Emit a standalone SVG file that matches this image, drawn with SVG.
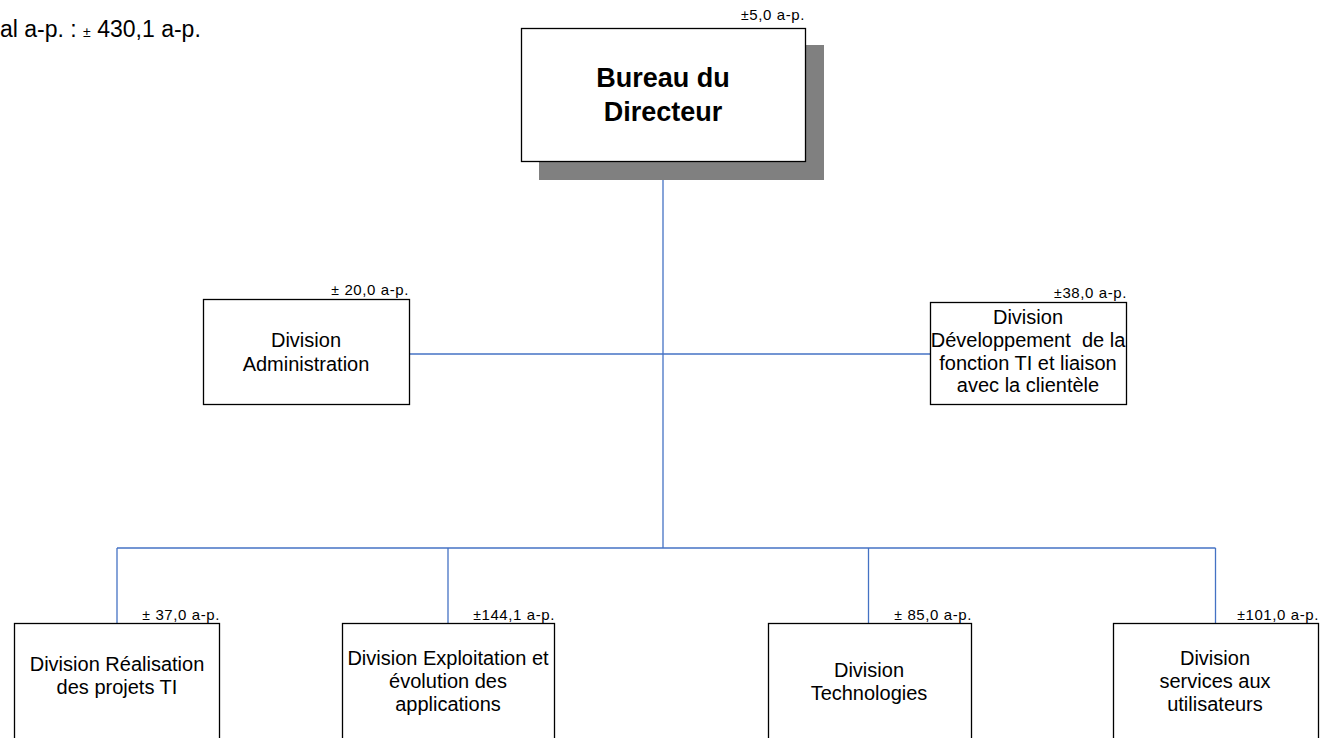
<svg xmlns="http://www.w3.org/2000/svg" width="1327" height="738" viewBox="0 0 1327 738">
<style>
text{font-family:"Liberation Sans",Arial,sans-serif;fill:#000}
.box{fill:#fff;stroke:#000;stroke-width:1.3}
.lbl{font-size:20px;text-anchor:middle}
.ap{font-size:15px;text-anchor:end;letter-spacing:0.6px}
.pm{font-size:14px}
.con{stroke:#4472C4;stroke-width:1.3;fill:none}
</style>
<rect width="1327" height="738" fill="#fff"/>
<text x="0" y="37" style="font-size:23px">al a-p. : <tspan style="font-size:14px">±</tspan> 430,1 a-p.</text>
<g id="connectors">
<line class="con" x1="663" y1="161" x2="663" y2="548"/>
<line class="con" x1="409" y1="354" x2="930" y2="354"/>
<line class="con" x1="117" y1="548" x2="1215.5" y2="548"/>
<line class="con" x1="117" y1="548" x2="117" y2="629"/>
<line class="con" x1="448" y1="548" x2="448" y2="623"/>
<line class="con" x1="868.5" y1="548" x2="868.5" y2="623"/>
<line class="con" x1="1215.5" y1="548" x2="1215.5" y2="623"/>
</g>
<g id="bureau">
<rect x="539" y="45" width="285" height="135" fill="#808080"/>
<rect class="box" x="521.5" y="28.5" width="284" height="133"/>
<text class="ap" x="805" y="20"><tspan class="pm">±</tspan>5,0 a-p.</text>
<text x="663" y="87" style="font-size:27px;font-weight:bold;text-anchor:middle">Bureau du</text>
<text x="663" y="121" style="font-size:27px;font-weight:bold;text-anchor:middle">Directeur</text>
</g>
<g id="admin">
<rect class="box" x="203.5" y="299.5" width="206" height="105"/>
<text class="ap" x="409" y="295"><tspan class="pm">±</tspan> 20,0 a-p.</text>
<text class="lbl" x="306" y="347">Division</text>
<text class="lbl" x="306" y="371">Administration</text>
</g>
<g id="dev">
<rect class="box" x="930.5" y="302.5" width="196" height="102"/>
<text class="ap" x="1127" y="298"><tspan class="pm">±</tspan>38,0 a-p.</text>
<text class="lbl" x="1028" y="324">Division</text>
<text class="lbl" x="1028" y="347" xml:space="preserve">Développement  de la</text>
<text class="lbl" x="1028" y="370">fonction TI et liaison</text>
<text class="lbl" x="1028" y="392">avec la clientèle</text>
</g>
<g id="realisation">
<rect class="box" x="14.5" y="623.5" width="205" height="130"/>
<text class="ap" x="220" y="620"><tspan class="pm">±</tspan> 37,0 a-p.</text>
<text class="lbl" x="117" y="671">Division Réalisation</text>
<text class="lbl" x="117" y="694">des projets TI</text>
</g>
<g id="exploitation">
<rect class="box" x="342.5" y="623.5" width="212" height="130"/>
<text class="ap" x="555" y="620"><tspan class="pm">±</tspan>144,1 a-p.</text>
<text class="lbl" x="448" y="665">Division Exploitation et</text>
<text class="lbl" x="448" y="688">évolution des</text>
<text class="lbl" x="448" y="711">applications</text>
</g>
<g id="technologies">
<rect class="box" x="768.5" y="623.5" width="203" height="130"/>
<text class="ap" x="972" y="620"><tspan class="pm">±</tspan> 85,0 a-p.</text>
<text class="lbl" x="869" y="677">Division</text>
<text class="lbl" x="869" y="700">Technologies</text>
</g>
<g id="services">
<rect class="box" x="1113.5" y="623.5" width="205" height="130"/>
<text class="ap" x="1319" y="620"><tspan class="pm">±</tspan>101,0 a-p.</text>
<text class="lbl" x="1215" y="665">Division</text>
<text class="lbl" x="1215" y="688">services aux</text>
<text class="lbl" x="1215" y="711">utilisateurs</text>
</g>
</svg>
